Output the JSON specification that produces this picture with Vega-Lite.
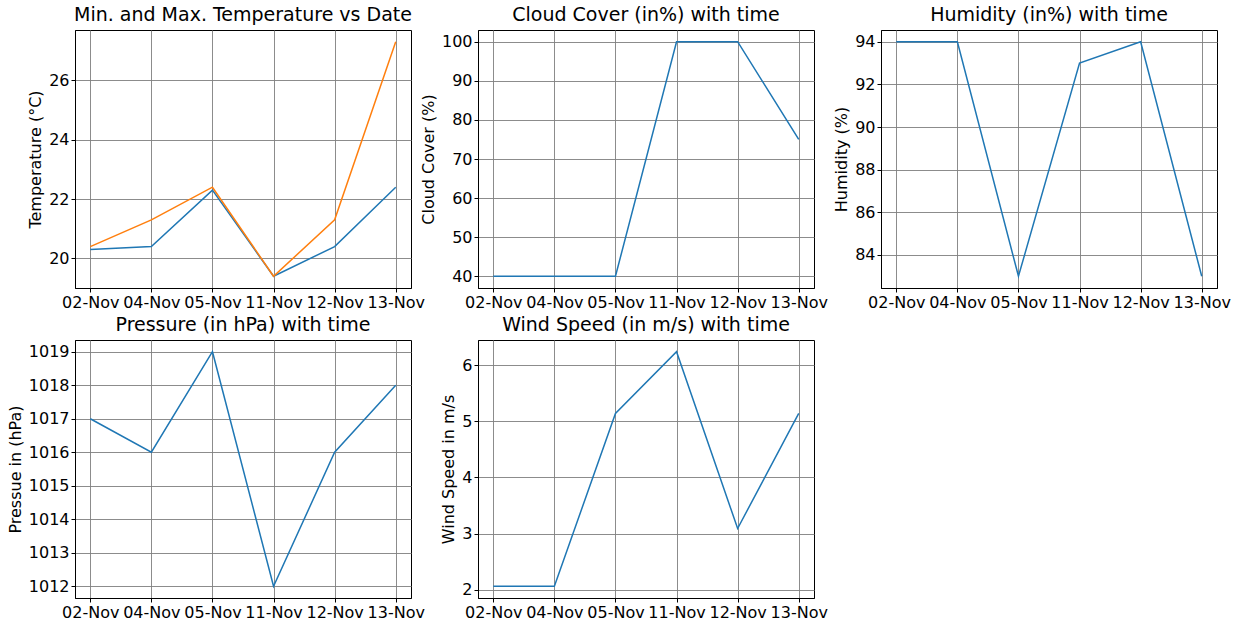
{
  "$schema": "https://vega.github.io/schema/vega-lite/v6.json",
  "background": "white",
  "padding": {"left": 6, "top": 5, "right": 5, "bottom": 0},
  "datasets": {
    "weather": [
      {"date": "02-Nov", "tmin": 20.3, "tmax": 20.4, "cloud": 40, "humidity": 94, "pressure": 1017, "wind": 2.06},
      {"date": "04-Nov", "tmin": 20.4, "tmax": 21.3, "cloud": 40, "humidity": 94, "pressure": 1016, "wind": 2.06},
      {"date": "05-Nov", "tmin": 22.3, "tmax": 22.4, "cloud": 40, "humidity": 83, "pressure": 1019, "wind": 5.14},
      {"date": "11-Nov", "tmin": 19.4, "tmax": 19.4, "cloud": 100, "humidity": 93, "pressure": 1012, "wind": 6.24},
      {"date": "12-Nov", "tmin": 20.4, "tmax": 21.3, "cloud": 100, "humidity": 94, "pressure": 1016, "wind": 3.09},
      {"date": "13-Nov", "tmin": 22.4, "tmax": 27.3, "cloud": 75, "humidity": 83, "pressure": 1018, "wind": 5.14}
    ]
  },
  "data": {"name": "weather"},
  "columns": 3,
  "spacing": {"row": 52, "column": 67},
  "bounds": "flush",
  "config": {
    "font": "DejaVu Sans",
    "view": {"stroke": "black", "strokeWidth": 1},
    "axis": {
      "labelFont": "DejaVu Sans", "labelFontSize": 16, "labelColor": "black",
      "titleFont": "DejaVu Sans", "titleFontSize": 16, "titleFontWeight": "normal", "titleColor": "black",
      "domainColor": "black", "domainWidth": 1,
      "tickColor": "black", "tickSize": 4, "tickWidth": 1,
      "grid": true, "gridColor": "#808080", "gridWidth": 1, "gridOpacity": 0.9,
      "labelPadding": 2, "titlePadding": 5
    },
    "axisX": {"labelAngle": 0, "title": null},
    "title": {"font": "DejaVu Sans", "fontSize": 19, "fontWeight": "normal", "color": "black", "offset": 5},
    "line": {"strokeWidth": 1.5}
  },
  "concat": [
    {
      "width": 336, "height": 258,
      "title": "Min. and Max. Temperature vs Date",
      "encoding": {
        "x": {"field": "date", "type": "ordinal", "sort": null, "scale": {"type": "point", "padding": 0.25}}
      },
      "layer": [
        {
          "mark": {"type": "line", "color": "#1f77b4"},
          "encoding": {
            "y": {"field": "tmin", "type": "quantitative", "title": "Temperature (°C)",
                  "scale": {"domain": [19.005, 27.695], "nice": false, "zero": false},
                  "axis": {"values": [20, 22, 24, 26], "format": "d"}}
          }
        },
        {
          "mark": {"type": "line", "color": "#ff7f0e"},
          "encoding": {
            "y": {"field": "tmax", "type": "quantitative"}
          }
        }
      ]
    },
    {
      "width": 336, "height": 258,
      "title": "Cloud Cover (in%) with time",
      "mark": {"type": "line", "color": "#1f77b4"},
      "encoding": {
        "x": {"field": "date", "type": "ordinal", "sort": null, "scale": {"type": "point", "padding": 0.25}},
        "y": {"field": "cloud", "type": "quantitative", "title": "Cloud Cover (%)",
              "scale": {"domain": [37, 103], "nice": false, "zero": false},
              "axis": {"values": [40, 50, 60, 70, 80, 90, 100], "format": "d"}}
      }
    },
    {
      "width": 336, "height": 258,
      "title": "Humidity (in%) with time",
      "mark": {"type": "line", "color": "#1f77b4"},
      "encoding": {
        "x": {"field": "date", "type": "ordinal", "sort": null, "scale": {"type": "point", "padding": 0.25}},
        "y": {"field": "humidity", "type": "quantitative", "title": "Humidity (%)",
              "scale": {"domain": [82.45, 94.55], "nice": false, "zero": false},
              "axis": {"values": [84, 86, 88, 90, 92, 94], "format": "d"}}
      }
    },
    {
      "width": 336, "height": 258,
      "title": "Pressure (in hPa) with time",
      "mark": {"type": "line", "color": "#1f77b4"},
      "encoding": {
        "x": {"field": "date", "type": "ordinal", "sort": null, "scale": {"type": "point", "padding": 0.25}},
        "y": {"field": "pressure", "type": "quantitative", "title": "Pressue in (hPa)",
              "scale": {"domain": [1011.65, 1019.35], "nice": false, "zero": false},
              "axis": {"values": [1012, 1013, 1014, 1015, 1016, 1017, 1018, 1019], "format": "d"}}
      }
    },
    {
      "width": 336, "height": 258,
      "title": "Wind Speed (in m/s) with time",
      "mark": {"type": "line", "color": "#1f77b4"},
      "encoding": {
        "x": {"field": "date", "type": "ordinal", "sort": null, "scale": {"type": "point", "padding": 0.25}},
        "y": {"field": "wind", "type": "quantitative", "title": "Wind Speed in m/s",
              "scale": {"domain": [1.851, 6.449], "nice": false, "zero": false},
              "axis": {"values": [2, 3, 4, 5, 6], "format": "d"}}
      }
    }
  ]
}
